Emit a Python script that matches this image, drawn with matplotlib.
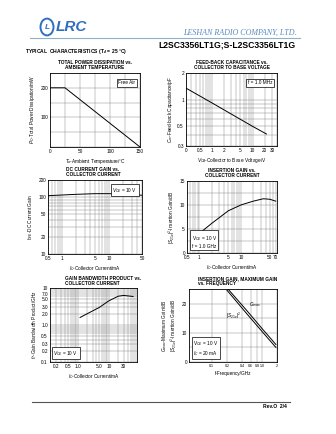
import matplotlib
matplotlib.use('Agg')
import matplotlib.pyplot as plt
from matplotlib.ticker import FixedLocator, FixedFormatter, LogLocator, NullFormatter, MultipleLocator
from matplotlib.patches import Circle

plt.rcParams['font.family'] = ['Liberation Sans', 'DejaVu Sans']
plt.rcParams['mathtext.fontset'] = 'custom'
plt.rcParams['mathtext.rm'] = 'Liberation Sans'
plt.rcParams['mathtext.it'] = 'Liberation Sans:italic'

# ---------------- data ----------------
temp_c = [0, 25, 150]
pd_mw = [200, 200, 0]

vcb_v = [0.23, 1, 10, 22]
cre_pf = [1.35, 0.92, 0.50, 0.41]

ic_hfe = [0.5, 1, 2, 5, 10, 20, 50]
hfe = [106, 109, 112, 115, 115, 113, 108]

ic_gain = [1, 2, 5, 10, 20, 35, 50, 70]
s21_ic = [4.1, 6.2, 8.8, 10.0, 10.8, 11.3, 11.2, 10.8]

ic_ft = [1.2, 5, 10, 20, 30, 60]
ft_ghz = [1.6, 3.0, 4.5, 6.0, 6.3, 5.9]

freq_gmax = [0.21, 0.5, 1.0, 1.9]
gmax_db = [25, 17.6, 11.5, 6.0]
freq_s21 = [0.2, 0.5, 1.0, 1.9]
s21_db = [24.6, 16.5, 10.5, 5.0]

W, H = 336, 434
fig = plt.figure(figsize=(W / 100, H / 100), dpi=100)
fig.patch.set_facecolor('white')

FS = 3.4
GRID = dict(color='#7a7a7a', lw=0.3)


def ax_px(x0, x1, y0, y1):
    ax = fig.add_axes([x0 / W, 1 - y1 / H, (x1 - x0) / W, (y1 - y0) / H])
    for s in ax.spines.values():
        s.set_linewidth(0.6)
    ax.tick_params(which='both', length=0, labelsize=FS, pad=1.5)
    return ax


def ftext(x, y, s, **kw):
    fig.text(x / W, 1 - y / H, s, **kw)


def box(ax, x, y, s, ha, va):
    ax.text(x, y, s, transform=ax.transAxes, ha=ha, va=va, fontsize=FS, zorder=5,
            bbox=dict(boxstyle='square,pad=0.35', fc='white', ec='black', lw=0.5))


# ---------------- header ----------------
fig.patches.append(Circle((47 / W, 1 - 27 / H), 6.5 / W, transform=fig.transFigure,
                          fc='white', ec='#2f6fc0', lw=1.4))
ftext(47, 27.5, 'L', fontsize=6, color='#2f6fc0', fontweight='bold', style='italic', ha='center', va='center')
ftext(56, 27, 'LRC', fontsize=11, color='#2f6fc0', fontweight='bold', style='italic', va='center')
ftext(297, 33, 'LESHAN RADIO COMPANY, LTD.', fontsize=5.8, color='#5a8ac0', family='Liberation Serif',
      style='italic', ha='right', va='center')
fig.add_artist(plt.Line2D([30 / W, 300 / W], [1 - 37.5 / H] * 2, color='#8fb0c8', lw=0.8))
ftext(158, 45, 'L2SC3356LT1G;S-L2SC3356LT1G', fontsize=6.2, fontweight='bold', va='center')
ftext(25, 51, r'TYPICAL  CHARACTERISTICS (T$_{A}$ = 25 °C)', fontsize=3.6, fontweight='bold', va='center')

# ---------------- chart 1 ----------------
ax1 = ax_px(50, 140, 73, 147)
ax1.plot(temp_c, pd_mw, color='black', lw=0.7)
ax1.set_xlim(0, 150)
ax1.set_ylim(0, 250)
ax1.xaxis.set_major_locator(FixedLocator([0, 50, 100, 150]))
ax1.yaxis.set_major_locator(FixedLocator([100, 200]))
ax1.xaxis.set_minor_locator(MultipleLocator(25))
ax1.yaxis.set_minor_locator(MultipleLocator(50))
ax1.grid(which='both', **GRID)
box(ax1, 0.95, 0.9, 'Free Air', 'right', 'top')
ax1.set_xlabel(r'$T_a$-Ambient Temperature/°C', fontsize=FS, labelpad=2)
ax1.set_ylabel(r'$P_C$-Total Power Dissipation/mW', fontsize=FS, labelpad=2)
ftext(95, 65, 'TOTAL POWER DISSIPATION vs.\nAMBIENT TEMPERATURE', fontsize=FS, fontweight='bold',
      ha='center', va='center', linespacing=1.0)

# ---------------- chart 2 ----------------
ax2 = ax_px(186, 277, 73, 146)
ax2.plot(vcb_v, cre_pf, color='black', lw=0.7)
ax2.set_xscale('log')
ax2.set_yscale('log')
ax2.set_xlim(0.23, 40)
ax2.set_ylim(0.3, 2)
ax2.xaxis.set_major_locator(FixedLocator([0.23, 0.5, 1, 2, 5, 10, 20, 30]))
ax2.xaxis.set_major_formatter(FixedFormatter(['0', '0.5', '1', '2', '5', '10', '20', '30']))
ax2.yaxis.set_major_locator(FixedLocator([0.3, 0.5, 1, 2]))
ax2.yaxis.set_major_formatter(FixedFormatter(['0.3', '0.5', '1', '2']))
ax2.xaxis.set_minor_locator(LogLocator(subs=range(1, 10)))
ax2.yaxis.set_minor_locator(LogLocator(subs=range(1, 10)))
ax2.xaxis.set_minor_formatter(NullFormatter())
ax2.yaxis.set_minor_formatter(NullFormatter())
ax2.grid(which='both', **GRID)
box(ax2, 0.95, 0.9, 'f = 1.0 MHz', 'right', 'top')
ax2.set_xlabel(r'$V_{CB}$-Collector to Base Voltage/V', fontsize=FS, labelpad=2)
ax2.set_ylabel(r'$C_{re}$-Feed-back Capacitance/pF', fontsize=FS, labelpad=2)
ftext(232, 65, 'FEED-BACK CAPACITANCE vs.\nCOLLECTOR TO BASE VOLTAGE', fontsize=FS, fontweight='bold',
      ha='center', va='center', linespacing=1.0)

# ---------------- chart 3 ----------------
ax3 = ax_px(48, 142, 180, 254)
ax3.plot(ic_hfe, hfe, color='black', lw=0.7)
ax3.set_xscale('log')
ax3.set_yscale('log')
ax3.set_xlim(0.5, 50)
ax3.set_ylim(10, 200)
ax3.xaxis.set_major_locator(FixedLocator([0.5, 1, 5, 10, 50]))
ax3.xaxis.set_major_formatter(FixedFormatter(['0.5', '1', '5', '10', '50']))
ax3.yaxis.set_major_locator(FixedLocator([10, 20, 50, 100, 200]))
ax3.yaxis.set_major_formatter(FixedFormatter(['10', '20', '50', '100', '200']))
ax3.xaxis.set_minor_locator(LogLocator(subs=range(1, 10)))
ax3.yaxis.set_minor_locator(LogLocator(subs=range(1, 10)))
ax3.xaxis.set_minor_formatter(NullFormatter())
ax3.yaxis.set_minor_formatter(NullFormatter())
ax3.grid(which='both', **GRID)
box(ax3, 0.95, 0.92, r'$V_{CE}$ = 10 V', 'right', 'top')
ax3.set_xlabel(r'$I_C$-Collector Current/mA', fontsize=FS, labelpad=2)
ax3.set_ylabel(r'$h_{FE}$-DC Current Gain', fontsize=FS, labelpad=2)
ftext(93, 172, 'DC CURRENT GAIN vs.\nCOLLECTOR CURRENT', fontsize=FS, fontweight='bold',
      ha='center', va='center', linespacing=1.0)

# ---------------- chart 4 ----------------
ax4 = ax_px(187, 277, 181, 253)
ax4.plot(ic_gain, s21_ic, color='black', lw=0.7)
ax4.set_xscale('log')
ax4.set_xlim(0.5, 75)
ax4.set_ylim(0, 15)
ax4.xaxis.set_major_locator(FixedLocator([0.5, 1, 5, 10, 50, 70]))
ax4.xaxis.set_major_formatter(FixedFormatter(['0.5', '1', '5', '10', '50', '70']))
ax4.yaxis.set_major_locator(FixedLocator([0, 5, 10, 15]))
ax4.yaxis.set_minor_locator(MultipleLocator(2.5))
ax4.xaxis.set_minor_locator(LogLocator(subs=range(1, 10)))
ax4.xaxis.set_minor_formatter(NullFormatter())
ax4.grid(which='both', **GRID)
box(ax4, 0.05, 0.06, 'V$_{CE}$ = 10 V\nf = 1.0 GHz', 'left', 'bottom')
ax4.set_xlabel(r'$I_C$-Collector Current/mA', fontsize=FS, labelpad=2)
ax4.set_ylabel(r'|$S_{21e}$|$^2$-Insertion Gain/dB', fontsize=FS, labelpad=2)
ftext(232, 173, 'INSERTION GAIN vs.\nCOLLECTOR CURRENT', fontsize=FS, fontweight='bold',
      ha='center', va='center', linespacing=1.0)

# ---------------- chart 5 ----------------
ax5 = ax_px(50, 137, 288, 362)
ax5.plot(ic_ft, ft_ghz, color='black', lw=0.7)
ax5.set_xscale('log')
ax5.set_yscale('log')
ax5.set_xlim(0.13, 80)
ax5.set_ylim(0.1, 10)
ax5.xaxis.set_major_locator(FixedLocator([0.2, 0.5, 1, 5, 10, 30]))
ax5.xaxis.set_major_formatter(FixedFormatter(['0.2', '0.5', '1.0', '5.0', '10', '30']))
yt5 = [0.1, 0.2, 0.3, 0.5, 1, 2, 3, 5, 7, 10]
ax5.yaxis.set_major_locator(FixedLocator(yt5))
ax5.yaxis.set_major_formatter(FixedFormatter(['0.1', '0.2', '0.3', '0.5', '1.0', '2.0', '3.0', '5.0', '7.0', '10']))
ax5.xaxis.set_minor_locator(LogLocator(subs=range(1, 10)))
ax5.yaxis.set_minor_locator(LogLocator(subs=range(1, 10)))
ax5.xaxis.set_minor_formatter(NullFormatter())
ax5.yaxis.set_minor_formatter(NullFormatter())
ax5.grid(which='both', **GRID)
box(ax5, 0.04, 0.06, r'$V_{CE}$ = 10 V', 'left', 'bottom')
ax5.set_xlabel(r'$I_C$-Collector Current/mA', fontsize=FS, labelpad=2)
ax5.set_ylabel(r'$f_T$-Gain Bandwidth Product/GHz', fontsize=FS, labelpad=2)
ftext(65, 281, 'GAIN BANDWIDTH PRODUCT vs.\nCOLLECTOR CURRENT', fontsize=FS, fontweight='bold',
      ha='left', va='center', linespacing=1.0)

# ---------------- chart 6 ----------------
ax6 = ax_px(189, 277, 289, 362)
ax6.plot(freq_gmax, gmax_db, color='black', lw=0.7)
ax6.plot(freq_s21, s21_db, color='black', lw=0.7)
ax6.set_xscale('log')
ax6.set_xlim(0.035, 2)
ax6.set_ylim(0, 25)
ax6.xaxis.set_major_locator(FixedLocator([0.1, 0.2, 0.4, 0.6, 0.8, 1.0, 2]))
ax6.xaxis.set_major_formatter(FixedFormatter(['0.1', '0.2', '0.4', '0.6', '0.8', '1.0', '2']))
ax6.tick_params(axis='x', labelsize=2.6)
ax6.xaxis.set_minor_locator(FixedLocator([]))
ax6.yaxis.set_major_locator(FixedLocator([0, 10, 20]))
ax6.yaxis.set_minor_locator(MultipleLocator(5))
ax6.grid(which='both', **GRID)
ax6.text(0.68, 0.76, r'$G_{max}$', transform=ax6.transAxes, fontsize=FS)
ax6.text(0.42, 0.6, r'|$S_{21e}$|$^2$', transform=ax6.transAxes, fontsize=FS)
box(ax6, 0.05, 0.06, 'V$_{CE}$ = 10 V\n$I_C$ = 20 mA', 'left', 'bottom')
ax6.set_xlabel('f-Frequency/GHz', fontsize=FS, labelpad=2)
ax6.set_ylabel('$G_{max}$-Maximum Gain/dB\n|$S_{21e}$|$^2$-Insertion Gain/dB', fontsize=FS, labelpad=2,
               linespacing=1.0)
ftext(198, 281, 'INSERTION GAIN, MAXIMUM GAIN\nvs. FREQUENCY', fontsize=FS, fontweight='bold',
      ha='left', va='center', linespacing=1.0)

# ---------------- footer ----------------
fig.add_artist(plt.Line2D([32 / W, 290 / W], [1 - 402 / H] * 2, color='#555555', lw=0.8))
ftext(287, 407, 'Rev.O  2/4', fontsize=3.6, fontweight='bold', ha='right', va='center')

fig.savefig('out.png', dpi=100, facecolor='white')
